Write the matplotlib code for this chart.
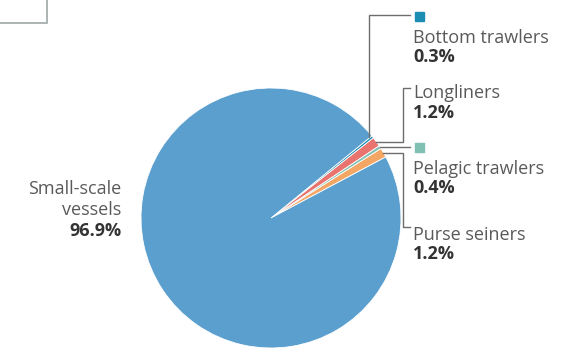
import numpy as np
import matplotlib
matplotlib.use("Agg")
import matplotlib.pyplot as plt

# data (counter-clockwise from the start angle)
categories = ["Purse seiners", "Pelagic trawlers", "Longliners", "Bottom trawlers", "Small-scale vessels"]
shares = [1.2, 0.4, 1.2, 0.3, 96.9]
value_labels = ["1.2%", "0.4%", "1.2%", "0.3%", "96.9%"]
colors = ["#f4a765", "#7fc0b2", "#e8736f", "#1b8db3", "#5b9fcf"]

W, H = 567, 349
plt.rcParams['font.family'] = ['Open Sans', 'DejaVu Sans']

fig = plt.figure(figsize=(W / 100, H / 100), dpi=100)
ax = fig.add_axes([0, 0, 1, 1])

def py(y):
    # pixel row (from top) -> data y
    return H - y

cx, cy, R = 271, py(218), 130
start = 28
wedges, _ = ax.pie(shares, colors=colors, startangle=start, counterclock=True,
                   center=(cx, cy), radius=R, frame=True,
                   wedgeprops=dict(edgecolor="white", linewidth=0.6))
ax.set_xlim(0, W)
ax.set_ylim(0, H)
ax.axis("off")

# outer mid-points of the small wedges
def edge_pt(w):
    a = np.deg2rad((w.theta1 + w.theta2) / 2)
    return cx + R * np.cos(a), cy + R * np.sin(a)

lc = "#6d6d6d"
lw = 1.0
tx = 413
grey = "#5a5a5a"
dark = "#333333"
fs = 13

# Bottom trawlers
x0, y0 = edge_pt(wedges[3])
x0 -= 4
ax.plot([x0, x0, 410], [y0, py(15), py(15)], color=lc, lw=lw, solid_joinstyle="miter")
ax.add_patch(plt.Rectangle((415, py(21)), 9, 9, color=colors[3]))
ax.text(tx, py(38), categories[3], color=grey, fontsize=fs, va="center", ha="left")
ax.text(tx, py(57), value_labels[3], color=dark, fontsize=fs, fontweight="bold", va="center", ha="left")

# Longliners
x0, y0 = edge_pt(wedges[2])
ax.plot([x0, 403, 403, 410], [y0, y0, py(88), py(88)], color=lc, lw=lw, solid_joinstyle="miter")
ax.text(tx, py(93), categories[2], color=grey, fontsize=fs, va="center", ha="left")
ax.text(tx, py(113), value_labels[2], color=dark, fontsize=fs, fontweight="bold", va="center", ha="left")

# Pelagic trawlers
x0, y0 = edge_pt(wedges[1])
ax.plot([x0, 410], [y0, y0], color=lc, lw=lw)
ax.add_patch(plt.Rectangle((415, py(152)), 9, 9, color=colors[1]))
ax.text(tx, py(169), categories[1], color=grey, fontsize=fs, va="center", ha="left")
ax.text(tx, py(188), value_labels[1], color=dark, fontsize=fs, fontweight="bold", va="center", ha="left")

# Purse seiners
x0, y0 = edge_pt(wedges[0])
ax.plot([x0, 403, 403, 410], [y0, y0, py(227), py(227)], color=lc, lw=lw, solid_joinstyle="miter")
ax.text(tx, py(235), categories[0], color=grey, fontsize=fs, va="center", ha="left")
ax.text(tx, py(254), value_labels[0], color=dark, fontsize=fs, fontweight="bold", va="center", ha="left")

# Small-scale vessels
ax.text(121, py(189), "Small-scale", color=grey, fontsize=fs, va="center", ha="right")
ax.text(121, py(210), "vessels", color=grey, fontsize=fs, va="center", ha="right")
ax.text(121, py(231), value_labels[4], color=dark, fontsize=fs, fontweight="bold", va="center", ha="right")

# corner of a box at the top-left
ax.plot([0, 47, 47], [py(22.5), py(22.5), H], color="#a0a6a6", lw=1.2, solid_joinstyle="miter")

fig.savefig("out.png", dpi=100)
